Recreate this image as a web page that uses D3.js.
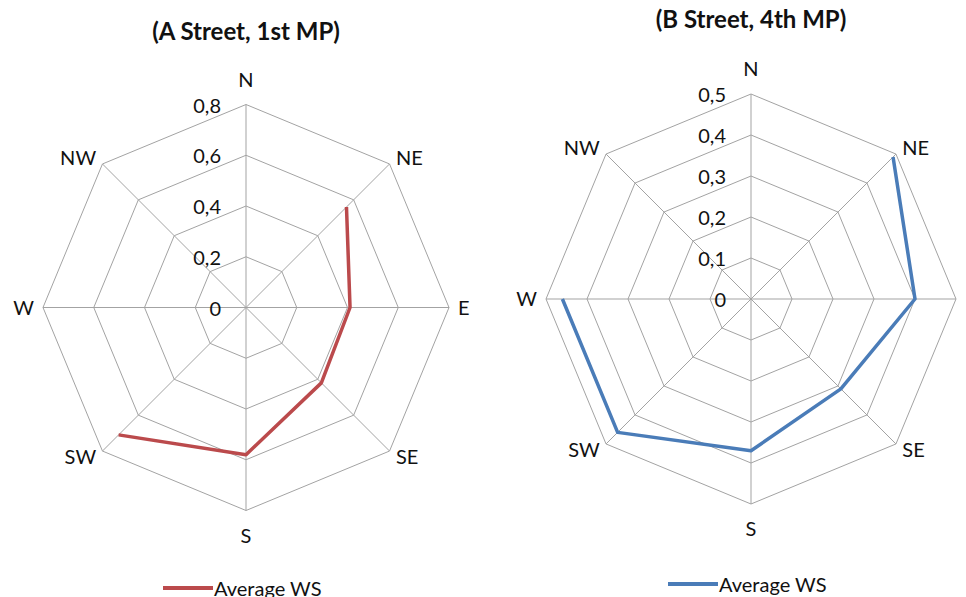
<!DOCTYPE html>
<html>
<head>
<meta charset="utf-8">
<script src="https://cdn.jsdelivr.net/npm/d3@7"></script>
<style>
  body { margin: 0; background: #fff; }
  text { font-family: Lato, "Open Sans", sans-serif; fill: #111; }
</style>
</head>
<body>
<div id="chart"></div>
<script>
// wind directions, clockwise from north
var directions = ["N", "NE", "E", "SE", "S", "SW", "W", "NW"];

// average wind speed per direction (null = no data, gap in the line)
var aStreetWS = [null, 0.56, 0.41, 0.42, 0.58, 0.71, null, null];
var bStreetWS = [null, 0.49, 0.40, 0.31, 0.37, 0.46, 0.46, null];

var aTicks = [0, 0.2, 0.4, 0.6, 0.8];
var bTicks = [0, 0.1, 0.2, 0.3, 0.4, 0.5];

var width = 966, height = 597;

var svg = d3.select("#chart").append("svg")
    .attr("width", width)
    .attr("height", height);

var fmt = function(v){ return String(v).replace(".", ","); };

function radar(opts){
    var g = svg.append("g")
        .attr("transform", "translate(" + opts.cx + "," + opts.cy + ")");

    var rScale = d3.scaleLinear()
        .domain([0, d3.max(opts.ticks)])
        .range([0, opts.radius]);
    var aScale = d3.scalePoint()
        .domain(directions)
        .range([0, 2 * Math.PI * (directions.length - 1) / directions.length]);

    function pt(dir, v){
        var a = aScale(dir), r = rScale(v);
        return [r * Math.sin(a), -r * Math.cos(a)];
    }

    // rings
    g.selectAll(".ring")
        .data(opts.ticks.filter(function(t){ return t > 0; }))
        .enter().append("polygon")
            .attr("class", "ring")
            .attr("points", function(t){
                return directions.map(function(d){ return pt(d, t).join(","); }).join(" ");
            })
            .style("fill", "none")
            .style("stroke", "#a3a3a3")
            .style("stroke-width", 1);

    // spokes
    g.selectAll(".spoke")
        .data(directions)
        .enter().append("line")
            .attr("class", "spoke")
            .attr("x1", 0).attr("y1", 0)
            .attr("x2", function(d){ return pt(d, d3.max(opts.ticks))[0]; })
            .attr("y2", function(d){ return pt(d, d3.max(opts.ticks))[1]; })
            .style("stroke", "#a3a3a3")
            .style("stroke-width", 1);

    // tick labels along north axis
    g.selectAll(".tick")
        .data(opts.ticks)
        .enter().append("text")
            .attr("class", "tick")
            .attr("x", -25)
            .attr("y", function(t){ return -rScale(t) + 1; })
            .attr("dy", "0.35em")
            .attr("text-anchor", "end")
            .style("font-size", "20px")
            .text(fmt);

    // direction labels
    g.selectAll(".dir")
        .data(directions)
        .enter().append("text")
            .attr("class", "dir")
            .attr("x", function(d){
                return (opts.radius + 9) * Math.sin(aScale(d));
            })
            .attr("y", function(d){
                var a = aScale(d);
                var extra = Math.abs(Math.sin(a)) < 0.01 ? 16 : 0;
                return -(opts.radius + 9 + extra) * Math.cos(a);
            })
            .attr("dy", "0.35em")
            .attr("text-anchor", function(d){
                var s = Math.sin(aScale(d));
                return Math.abs(s) < 0.01 ? "middle" : (s > 0 ? "start" : "end");
            })
            .style("font-size", "20px")
            .text(function(d){ return d; });

    // series line
    var line = d3.lineRadial()
        .defined(function(d){ return d.v != null; })
        .angle(function(d){ return aScale(d.dir); })
        .radius(function(d){ return rScale(d.v); });

    var pts = directions.map(function(d, i){ return {dir: d, v: opts.values[i]}; });

    g.append("path")
        .datum(pts)
        .attr("d", line)
        .style("fill", "none")
        .style("stroke", opts.color)
        .style("stroke-width", 3.5)
        .style("stroke-linejoin", "round");

    // title
    svg.append("text")
        .attr("x", opts.cx)
        .attr("y", opts.titleY)
        .attr("dy", "0.35em")
        .attr("text-anchor", "middle")
        .style("font-size", "24px")
        .style("font-weight", "bold")
        .text(opts.title);

    // legend
    var lg = svg.append("g")
        .attr("transform", "translate(" + opts.legendX + "," + opts.legendY + ")");
    lg.append("line")
        .attr("x1", 0).attr("x2", 50)
        .attr("y1", 0).attr("y2", 0)
        .style("stroke", opts.color)
        .style("stroke-width", 4);
    lg.append("text")
        .attr("x", 51)
        .attr("y", 1)
        .attr("dy", "0.35em")
        .style("font-size", "20px")
        .text("Average WS");
}

radar({
    cx: 246, cy: 307.5, radius: 203,
    ticks: aTicks, values: aStreetWS,
    color: "#bb4a4c",
    title: "(A Street, 1st MP)", titleY: 32,
    legendX: 163, legendY: 588
});

radar({
    cx: 751, cy: 299, radius: 205,
    ticks: bTicks, values: bStreetWS,
    color: "#4a7cb8",
    title: "(B Street, 4th MP)", titleY: 20,
    legendX: 668, legendY: 584
});
</script>
</body>
</html>
